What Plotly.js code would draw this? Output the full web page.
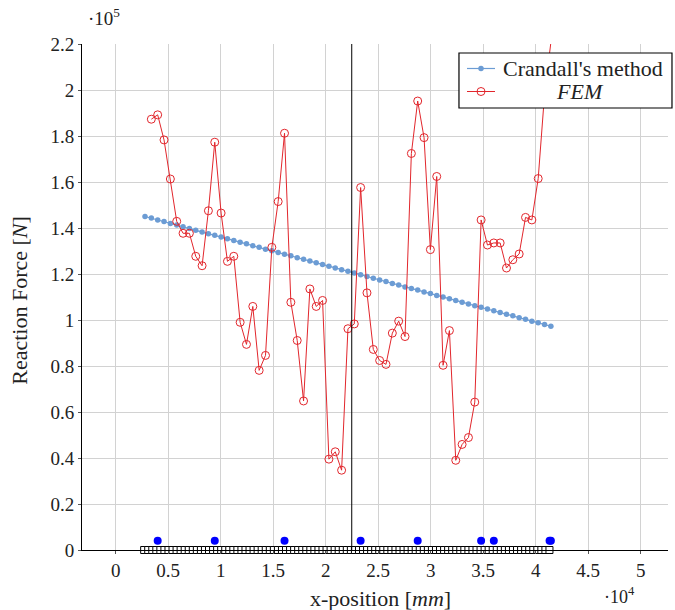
<!DOCTYPE html>
<html>
<head>
<meta charset="utf-8">
<script src="https://cdn.plot.ly/plotly-3.0.1.min.js"></script>
<style>
  html, body { margin: 0; padding: 0; background: #ffffff; }
  #chart { width: 675px; height: 610px; }
</style>
</head>
<body>
<div id="chart"></div>
<script>
// Node positions along the beam [mm]
const xNodes = [
  2790, 3394, 3998, 4602, 5206, 5810, 6414, 7018, 7622, 8226,
  8830, 9434, 10038, 10642, 11246, 11850, 12454, 13058, 13662, 14266,
  14870, 15474, 16078, 16682, 17286, 17890, 18494, 19098, 19702, 20306,
  20910, 21514, 22118, 22722, 23326, 23930, 24534, 25138, 25742, 26346,
  26950, 27554, 28158, 28762, 29366, 29970, 30574, 31178, 31782, 32386,
  32990, 33594, 34198, 34802, 35406, 36010, 36614, 37218, 37822, 38426,
  39030, 39634, 40238, 40842, 41446
];

// Reaction force, Crandall's method [x10^5 N]
const crandall = [
  1.450, 1.443, 1.435, 1.428, 1.420, 1.413, 1.405, 1.398, 1.390, 1.383,
  1.375, 1.368, 1.361, 1.353, 1.346, 1.338, 1.331, 1.323, 1.316, 1.308,
  1.301, 1.293, 1.286, 1.279, 1.271, 1.264, 1.256, 1.249, 1.241, 1.234,
  1.226, 1.219, 1.212, 1.204, 1.197, 1.189, 1.182, 1.174, 1.167, 1.159,
  1.152, 1.144, 1.137, 1.130, 1.122, 1.115, 1.107, 1.100, 1.092, 1.085,
  1.077, 1.070, 1.062, 1.055, 1.048, 1.040, 1.033, 1.025, 1.018, 1.010,
  1.003, 0.995, 0.988, 0.980, 0.973
];

// Reaction force, FEM (nodes 1..64) [x10^5 N]
const fem = [
  1.873, 1.892, 1.783, 1.613, 1.429, 1.377, 1.377, 1.277, 1.236, 1.475,
  1.773, 1.465, 1.255, 1.277, 0.990, 0.894, 1.059, 0.781, 0.846, 1.316,
  1.515, 1.812, 1.077, 0.911, 0.648, 1.135, 1.059, 1.085, 0.395, 0.427,
  0.347, 0.962, 0.983, 1.576, 1.118, 0.872, 0.824, 0.807, 0.943, 0.995,
  0.928, 1.724, 1.952, 1.793, 1.306, 1.624, 0.803, 0.954, 0.390, 0.459,
  0.489, 0.643, 1.435, 1.326, 1.335, 1.335, 1.226, 1.262, 1.287, 1.446,
  1.435, 1.615, 1.980, 2.207
];

// Support locations [mm] and their marker height [x10^5 N]
const xSupports = [3998, 9434, 16078, 23326, 28762, 34802, 36010, 41320, 41446];
const ySupports = [0.04, 0.04, 0.04, 0.04, 0.04, 0.04, 0.04, 0.04, 0.04];

// Beam elements drawn along the axis [mm]
const xElements = [
  2710, 3096, 3482, 3868, 4254, 4640, 5026, 5412, 5798, 6184,
  6570, 6956, 7342, 7728, 8114, 8500, 8886, 9272, 9658, 10044,
  10430, 10816, 11202, 11588, 11974, 12360, 12746, 13132, 13518, 13904,
  14290, 14676, 15062, 15448, 15834, 16220, 16606, 16992, 17378, 17764,
  18150, 18536, 18922, 19308, 19694, 20080, 20466, 20852, 21238, 21624,
  22010, 22396, 22782, 23168, 23554, 23940, 24326, 24712, 25098, 25484,
  25870, 26256, 26642, 27028, 27414, 27800, 28186, 28572, 28958, 29344,
  29730, 30116, 30502, 30888, 31274, 31660, 32046, 32432, 32818, 33204,
  33590, 33976, 34362, 34748, 35134, 35520, 35906, 36292, 36678, 37064,
  37450, 37836, 38222, 38608, 38994, 39380, 39766, 40152, 40538, 40924,
  41310
];

// Mid-span section marker [mm]
const xSection = 22480;

// Axis ticks
const xTickVals = [0, 5000, 10000, 15000, 20000, 25000, 30000, 35000, 40000, 45000, 50000];
const xTickText = ['0', '0.5', '1', '1.5', '2', '2.5', '3', '3.5', '4', '4.5', '5'];
const yTickVals = [0, 0.2, 0.4, 0.6, 0.8, 1.0, 1.2, 1.4, 1.6, 1.8, 2.0, 2.2];
const yTickText = ['0', '0.2', '0.4', '0.6', '0.8', '1', '1.2', '1.4', '1.6', '1.8', '2', '2.2'];

// Legend entries
const legendNames = ["Crandall's method", '<i>FEM</i>'];

const FONT = 'Liberation Serif, Times New Roman, serif';
const TEXT_COLOR = '#222222';
const CRANDALL_COLOR = 'rgb(108,156,212)';
const FEM_COLOR = 'rgb(226,38,44)';

const traces = [
  {
    x: xElements,
    y: xElements.map(() => 0),
    type: 'scatter',
    mode: 'markers',
    marker: { symbol: 'square', size: 7, color: '#ffffff', line: { color: '#000000', width: 1 } },
    cliponaxis: false,
    hoverinfo: 'skip'
  },
  {
    x: xNodes,
    y: crandall,
    name: legendNames[0],
    type: 'scatter',
    mode: 'lines+markers',
    line: { color: CRANDALL_COLOR, width: 1.2 },
    marker: { color: CRANDALL_COLOR, size: 5.5 },
    cliponaxis: false
  },
  {
    x: xNodes.slice(1),
    y: fem,
    name: legendNames[1],
    type: 'scatter',
    mode: 'lines+markers',
    line: { color: FEM_COLOR, width: 1 },
    marker: { symbol: 'circle-open', color: FEM_COLOR, size: 8, line: { width: 1, color: FEM_COLOR } },
    cliponaxis: false
  },
  {
    x: xSupports,
    y: ySupports,
    type: 'scatter',
    mode: 'markers',
    marker: { color: '#0000ff', size: 8 },
    cliponaxis: false,
    hoverinfo: 'skip'
  }
];

const axisCommon = {
  showgrid: true,
  gridcolor: '#d2d2d2',
  gridwidth: 1,
  zeroline: false,
  showline: true,
  linecolor: '#000000',
  linewidth: 1,
  ticks: 'outside',
  ticklen: 3,
  tickcolor: '#555555',
  tickfont: { family: FONT, size: 19, color: TEXT_COLOR },
  fixedrange: true
};

// Legend box drawn in paper coordinates (plot area = [0,1] x [0,1])
const LEG = { x0: 0.6433, x1: 1.0068, y0: 0.8735, y1: 0.9822 };
const ROW1 = 0.9516, ROW2 = 0.9061;
const KEY = { x0: 0.657, x1: 0.7048, xc: 0.6809 };

const legendShapes = [
  {
    type: 'rect', xref: 'paper', yref: 'paper',
    x0: LEG.x0, x1: LEG.x1, y0: LEG.y0, y1: LEG.y1,
    fillcolor: '#ffffff', line: { color: '#000000', width: 1.2 }, layer: 'above'
  },
  {
    type: 'line', xref: 'paper', yref: 'paper',
    x0: KEY.x0, x1: KEY.x1, y0: ROW1, y1: ROW1,
    line: { color: CRANDALL_COLOR, width: 1.2 }, layer: 'above'
  },
  {
    type: 'circle', xref: 'paper', yref: 'paper',
    xsizemode: 'pixel', ysizemode: 'pixel', xanchor: KEY.xc, yanchor: ROW1,
    x0: -2.75, x1: 2.75, y0: -2.75, y1: 2.75,
    fillcolor: CRANDALL_COLOR, line: { color: CRANDALL_COLOR, width: 0 }, layer: 'above'
  },
  {
    type: 'line', xref: 'paper', yref: 'paper',
    x0: KEY.x0, x1: KEY.x1, y0: ROW2, y1: ROW2,
    line: { color: FEM_COLOR, width: 1 }, layer: 'above'
  },
  {
    type: 'circle', xref: 'paper', yref: 'paper',
    xsizemode: 'pixel', ysizemode: 'pixel', xanchor: KEY.xc, yanchor: ROW2,
    x0: -4, x1: 4, y0: -4, y1: 4,
    fillcolor: 'rgba(255,255,255,0)', line: { color: FEM_COLOR, width: 1 }, layer: 'above'
  }
];

const layout = {
  width: 675,
  height: 610,
  margin: { l: 82, r: 7, t: 44, b: 60 },
  paper_bgcolor: '#ffffff',
  plot_bgcolor: '#ffffff',
  font: { family: FONT, size: 19, color: TEXT_COLOR },
  showlegend: false,
  xaxis: Object.assign({}, axisCommon, {
    range: [-3210, 52600],
    tickvals: xTickVals,
    ticktext: xTickText
  }),
  yaxis: Object.assign({}, axisCommon, {
    range: [0, 2.2],
    tickvals: yTickVals,
    ticktext: yTickText
  }),
  shapes: [
    {
      type: 'line', xref: 'x', yref: 'y',
      x0: xSection, x1: xSection, y0: 0, y1: 2.2,
      line: { color: '#000000', width: 1 },
      layer: 'above'
    }
  ].concat(legendShapes),
  annotations: [
    {
      text: legendNames[0],
      xref: 'paper', yref: 'paper', x: 0.715, y: ROW1,
      xanchor: 'left', yanchor: 'middle', showarrow: false,
      font: { family: FONT, size: 22, color: TEXT_COLOR }
    },
    {
      text: legendNames[1],
      xref: 'paper', yref: 'paper', x: 0.8498, y: ROW2,
      xanchor: 'center', yanchor: 'middle', showarrow: false,
      font: { family: FONT, size: 22, color: TEXT_COLOR }
    },
    {
      text: 'x-position [<i>mm</i>]',
      xref: 'paper', yref: 'paper', x: 0.51, y: -0.095,
      xanchor: 'center', yanchor: 'middle', showarrow: false,
      font: { family: FONT, size: 22, color: TEXT_COLOR }
    },
    {
      text: 'Reaction Force [<i>N</i>]',
      xref: 'paper', yref: 'paper', x: -0.108, y: 0.494,
      xanchor: 'center', yanchor: 'middle', showarrow: false, textangle: -90,
      font: { family: FONT, size: 22, color: TEXT_COLOR }
    },
    {
      text: '·10<sup>5</sup>',
      xref: 'paper', yref: 'paper', x: 0.006, y: 1.054,
      xanchor: 'left', yanchor: 'middle', showarrow: false,
      font: { family: FONT, size: 19, color: TEXT_COLOR }
    },
    {
      text: '·10<sup>4</sup>',
      xref: 'paper', yref: 'paper', x: 0.918, y: -0.09,
      xanchor: 'center', yanchor: 'middle', showarrow: false,
      font: { family: FONT, size: 18, color: TEXT_COLOR }
    }
  ]
};

Plotly.newPlot('chart', traces, layout, { displayModeBar: false, staticPlot: true });
</script>
</body>
</html>
